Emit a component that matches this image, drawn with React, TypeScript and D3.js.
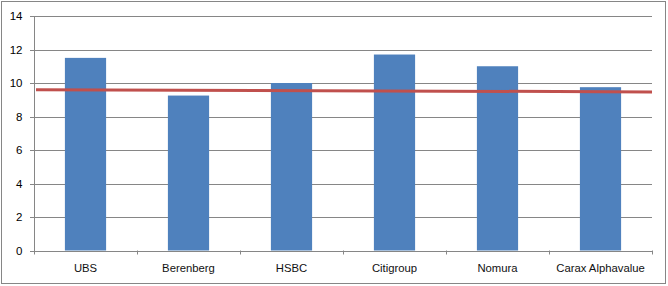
import React from "react";
import * as d3 from "d3";

const categories = ["UBS", "Berenberg", "HSBC", "Citigroup", "Nomura", "Carax Alphavalue"];
const values = [11.5, 9.25, 10.0, 11.7, 11.0, 9.75];
const trendEnds = [9.6, 9.47];
const yTicks = [0, 2, 4, 6, 8, 10, 12, 14];

export default function App() {
  const W = 668, H = 286;
  const left = 34, right = 652, top = 16, bottom = 250.5;
  const x = d3.scaleBand<string>().domain(categories).range([left, right]).paddingInner(0.6).paddingOuter(0.3);
  const xb = d3.scaleBand<string>().domain(categories).range([left, right]);
  const y = d3.scaleLinear().domain([0, 14]).range([bottom, top]);
  const lx = d3.scaleLinear().domain([0, 1]).range([left + 2, right]);
  const line = d3.line<number>().x((_, i) => lx(i)).y((d) => y(d));
  const font = "'Liberation Sans', Arial, sans-serif";
  return (
    <svg width={W} height={H} style={{ position: "absolute", left: 0, top: 0, background: "#fff" }}>
      <rect x={1.5} y={1.5} width={664} height={282} fill="#fff" stroke="#868686" strokeWidth={1} />
      {yTicks.map((t) => (
        <g key={t}>
          {t > 0 && (
            <line x1={left} x2={right} y1={Math.round(y(t)) + 0.5} y2={Math.round(y(t)) + 0.5} stroke="#868686" />
          )}
          <line x1={left - 4} x2={left} y1={Math.round(y(t)) + 0.5} y2={Math.round(y(t)) + 0.5} stroke="#868686" />
          <text x={22.5} y={y(t)} dy="0.35em" textAnchor="end" fontFamily={font} fontSize={11.5} fill="#000">
            {t}
          </text>
        </g>
      ))}
      {categories.map((c, i) => (
        <rect key={c} x={x(c)} y={y(values[i])} width={x.bandwidth()} height={y(0) - y(values[i])} fill="#4F81BD" />
      ))}
      <line x1={left + 0.5} x2={left + 0.5} y1={top} y2={Math.round(bottom) + 0.5} stroke="#868686" />
      <line x1={left} x2={right} y1={Math.round(bottom) + 0.5} y2={Math.round(bottom) + 0.5} stroke="#868686" />
      {categories.concat([""]).map((c, i) => {
        const xx = Math.round(left + i * xb.step()) + 0.5;
        return <line key={"t" + i} x1={xx} x2={xx} y1={bottom} y2={bottom + 4} stroke="#868686" />;
      })}
      {categories.map((c) => (
        <text key={"l" + c} x={(xb(c) as number) + xb.bandwidth() / 2} y={272} textAnchor="middle" fontFamily={font} fontSize={11.3} fill="#111">
          {c}
        </text>
      ))}
      <path d={line(trendEnds) as string} fill="none" stroke="#C0504D" strokeWidth={3} />
    </svg>
  );
}
